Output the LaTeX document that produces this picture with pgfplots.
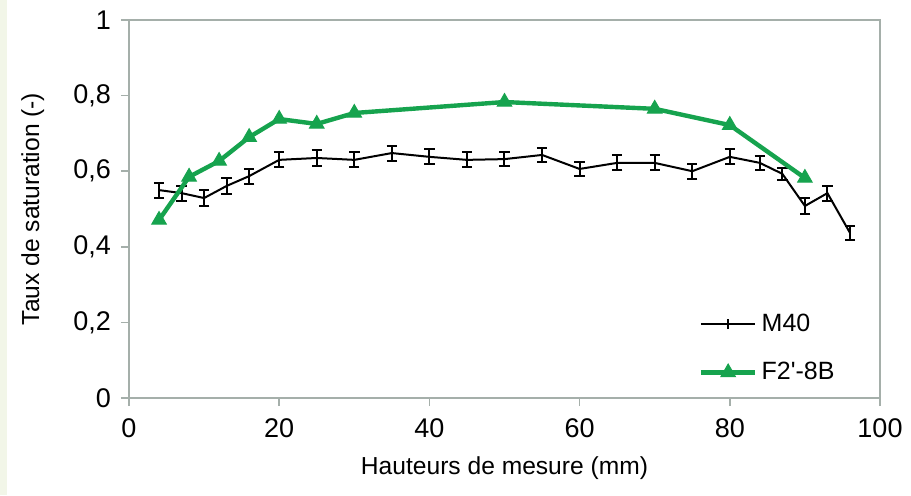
\documentclass[border=0pt]{standalone}
\usepackage{fontspec}
\setmainfont{Liberation Sans}
\usepackage{pgfplots}
\usepackage{pgfplotstable}
\pgfplotsset{compat=1.18}
\definecolor{courbeverte}{RGB}{22,163,78}
\definecolor{axegris}{RGB}{165,175,170}
\definecolor{bordvert}{RGB}{242,246,232}

% hauteur (mm), taux de saturation, ecart
\pgfplotstableread{
x y e
4 0.550 0.020
7 0.542 0.020
10 0.529 0.020
13 0.561 0.020
16 0.587 0.020
20 0.630 0.020
25 0.635 0.020
30 0.630 0.020
35 0.648 0.020
40 0.638 0.020
45 0.630 0.020
50 0.632 0.018
55 0.643 0.018
60 0.606 0.018
65 0.622 0.020
70 0.622 0.020
75 0.600 0.020
80 0.638 0.020
84 0.622 0.018
87 0.593 0.016
90 0.508 0.020
93 0.542 0.020
96 0.437 0.018
}\mfourty

\pgfplotstableread{
x y
4 0.471
8 0.585
12 0.627
16 0.690
20 0.738
25 0.725
30 0.754
50 0.783
70 0.765
80 0.722
90 0.582
}\ftwo

\begin{document}
\begin{tikzpicture}
\path[use as bounding box] (-64.5pt,-48.5pt) rectangle (391pt,199pt);
\fill[bordvert] (-64.5pt,-48.5pt) rectangle (-61pt,199pt);
\begin{axis}[
  at={(0,0)}, anchor=south west,
  scale only axis,
  width=375.5pt, height=189pt,
  xmin=0, xmax=100, ymin=0, ymax=1,
  xtick={0,20,...,100},
  ytick={0,0.2,...,1},
  axis line style={draw=axegris, line width=1pt},
  tick style={draw=axegris, line width=0.8pt},
  tick align=outside, tick pos=left,
  major tick length=4pt,
  /pgf/number format/.cd, use comma, fixed, precision=1, assume math mode=true,
  /pgfplots/.cd,
  tick label style={font=\fontsize{13.5}{15}\selectfont},
  xticklabel shift=3pt,
  yticklabel shift=1.5pt,
  xlabel={Hauteurs de mesure (mm)},
  ylabel={Taux de saturation (-)},
  every axis x label/.style={at={(axis description cs:0.5,-0.185)}, anchor=center,
    font=\fontsize{12.3}{14}\selectfont},
  every axis y label/.style={at={(axis description cs:-0.128,0.5)}, rotate=90, anchor=center,
    font=\fontsize{12.3}{14}\selectfont},
  legend style={at={(axis description cs:0.75,0.245)}, anchor=north west, draw=none, fill=none,
    font=\fontsize{12.5}{14}\selectfont, row sep=10pt},
  legend cell align=left,
]
\addplot[black, line width=1pt, mark=none,
  legend image code/.code={
    \draw[black, line width=1pt] (0cm,0cm) -- (0.96cm,0cm);
    \draw[black, line width=0.8pt] (0.48cm,-2.5pt) -- (0.48cm,2.5pt);},
  error bars/.cd, y dir=both, y explicit,
  error bar style={line width=1pt, black},
  error mark options={rotate=90, mark size=2.6pt, line width=1pt, black}]
  table[x=x, y=y, y error=e] {\mfourty};
\addlegendentry{M40}
\addplot[courbeverte, line width=2.2pt, mark=triangle*, mark size=4.2pt,
  mark options={fill=courbeverte, draw=courbeverte, line width=0.5pt},
  legend image code/.code={
    \draw[courbeverte, line width=2.2pt] (0cm,0cm) -- (0.96cm,0cm);
    \path[fill=courbeverte] plot[mark=triangle*, mark size=4.2pt, mark options={fill=courbeverte, draw=courbeverte, line width=0.5pt}] coordinates {(0.48cm,0cm)};}]
  table[x=x, y=y] {\ftwo};
\addlegendentry{F2\textquotesingle-8B}
\end{axis}
\end{tikzpicture}
\end{document}
